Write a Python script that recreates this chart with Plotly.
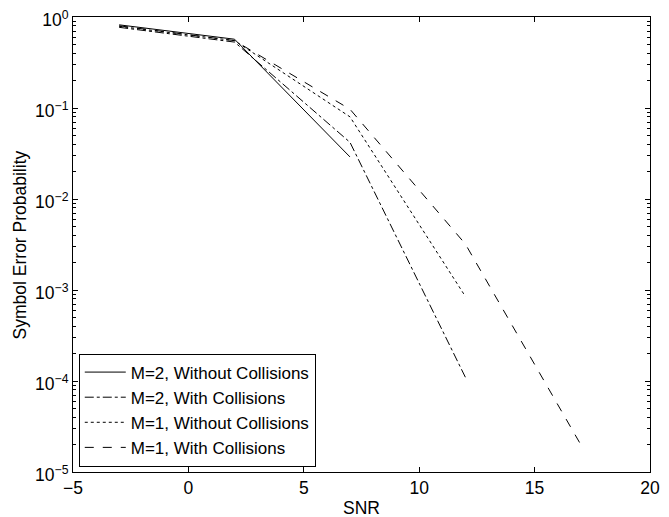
import plotly.graph_objects as go

snr = [-3, 2, 7, 12, 17]
m2_without = [0.82, 0.57, 0.029]
m2_with = [0.77, 0.53, 0.042, 1.1e-4]
m1_without = [0.79, 0.55, 0.08, 8.5e-4]
m1_with = [0.80, 0.55, 0.097, 3.2e-3, 2.0e-5]

names = ["M=2, Without Collisions", "M=2, With Collisions",
         "M=1, Without Collisions", "M=1, With Collisions"]
series = [m2_without, m2_with, m1_without, m1_with]
dashes = ["solid", "dashdot", "dot", "dash"]

ytickvals = [1, 1e-1, 1e-2, 1e-3, 1e-4, 1e-5]
yticktext = ["10<sup>0</sup>", "10<sup>−1</sup>", "10<sup>−2</sup>",
             "10<sup>−3</sup>", "10<sup>−4</sup>", "10<sup>−5</sup>"]
xtickvals = [-5, 0, 5, 10, 15, 20]
x_title = "SNR"
y_title = "Symbol Error Probability"

FONT = "Liberation Sans, Arial, Helvetica"
FS = 17.5

fig = go.Figure()
for name, ys, d in zip(names, series, dashes):
    fig.add_trace(go.Scatter(x=snr[:len(ys)], y=ys, mode="lines", name=name,
                             line=dict(color="black", width=1, dash=d)))

axis_common = dict(showline=True, linecolor="black", linewidth=1, mirror="allticks",
                   ticks="inside", tickcolor="black", ticklen=5, showgrid=False,
                   zeroline=False, automargin=False, ticklabeloverflow="allow",
                   tickfont=dict(family=FONT, size=FS, color="black"))

fig.update_xaxes(range=[-5, 20], tickvals=xtickvals, **axis_common)
fig.update_yaxes(type="log", range=[-5, 0], tickvals=ytickvals, ticktext=yticktext,
                 ticklabelshift=3,
                 minor=dict(ticks="inside", ticklen=3, tickcolor="black",
                            tickvals=[k * 10 ** e for e in range(-5, 0) for k in range(2, 10)]),
                 **axis_common)

fig.add_annotation(text=x_title, xref="paper", yref="paper", x=0.5, y=-0.079,
                   xanchor="center", yanchor="middle", showarrow=False,
                   font=dict(family=FONT, size=FS, color="black"))
fig.add_annotation(text=y_title, xref="paper", yref="paper", x=-0.092, y=0.5,
                   xanchor="center", yanchor="middle", showarrow=False, textangle=-90,
                   font=dict(family=FONT, size=FS, color="black"))

fig.update_layout(
    width=661, height=509,
    margin=dict(l=65, r=19, t=9, b=45),
    plot_bgcolor="white", paper_bgcolor="white",
    font=dict(family=FONT, size=FS, color="black"),
    legend=dict(x=0.01, y=0.012, xanchor="left", yanchor="bottom",
                bgcolor="white", bordercolor="black", borderwidth=1,
                font=dict(family=FONT, size=17), tracegroupgap=0, itemwidth=41),
    showlegend=True,
)

fig.write_html("out.html")
